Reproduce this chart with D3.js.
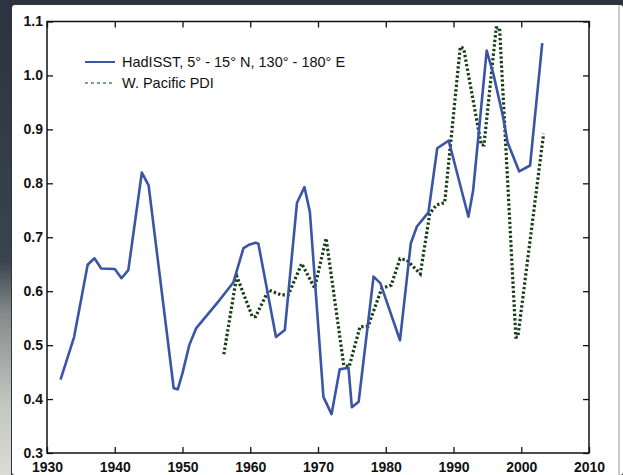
<!DOCTYPE html>
<html>
<head>
<meta charset="utf-8">
<script src="https://cdn.jsdelivr.net/npm/d3@7"></script>
<style>
  body { margin: 0; background: #2c3440; }
  svg { display: block; }
</style>
</head>
<body>
<div id="chart"></div>
<script>
// HadISST (blue line), years and values
var sstYears = [1932, 1934, 1936, 1937, 1938, 1940, 1941, 1942, 1944, 1945, 1948.7, 1949.3, 1950, 1951, 1952, 1955.5, 1957.5, 1959, 1959.8, 1960.8, 1961.2,
    1963.8, 1965.1, 1966.9, 1968, 1968.8, 1970.8, 1972, 1973.2, 1974.5, 1975, 1976, 1978.2, 1979.2, 1982.1, 1983.7, 1984.6, 1986.3, 1987.6, 1989.3,
    1992.2, 1992.9, 1994.9, 1995.9, 1997.3, 1998, 1999.7, 2001.3, 2003.1];
var sstValues = [0.436, 0.515, 0.649, 0.661, 0.642, 0.641, 0.624, 0.639, 0.82, 0.796, 0.42, 0.418, 0.448, 0.5, 0.531, 0.584, 0.616, 0.68, 0.686, 0.69, 0.688,
    0.515, 0.528, 0.764, 0.793, 0.747, 0.404, 0.372, 0.455, 0.458, 0.385, 0.395, 0.627, 0.615, 0.509, 0.689, 0.72, 0.746, 0.865, 0.879,
    0.738, 0.787, 1.046, 1.002, 0.924, 0.875, 0.822, 0.833, 1.06];

// W. Pacific PDI (green dotted line)
var pdiYears = [1956.1, 1958, 1960.3, 1960.8, 1962.7, 1964.6, 1965.6, 1967.6, 1969.5, 1971.2, 1973.8, 1974.6, 1976.2, 1977.4, 1979.4, 1980.8,
    1982.1, 1983.1, 1985.1, 1986.5, 1987.5, 1988.7, 1991, 1991.5, 1994.1, 1994.5, 1996.3, 1996.8, 1999.2, 1999.5, 2003.3];
var pdiValues = [0.483, 0.628, 0.553, 0.553, 0.602, 0.593, 0.593, 0.651, 0.606, 0.698, 0.463, 0.46, 0.534, 0.535, 0.605, 0.611,
    0.66, 0.658, 0.632, 0.744, 0.76, 0.764, 1.053, 1.05, 0.871, 0.871, 1.088, 1.088, 0.515, 0.515, 0.892];

var xTicks = [1930, 1940, 1950, 1960, 1970, 1980, 1990, 2000, 2010];
var yTicks = [0.3, 0.4, 0.5, 0.6, 0.7, 0.8, 0.9, 1.0, 1.1];
var legendLabels = ["HadISST, 5° - 15° N, 130° - 180° E", "W. Pacific PDI"];

var width = 623, height = 475;
var plot = { left: 47, right: 589, top: 21.5, bottom: 453 };

var svg = d3.select("#chart").append("svg")
    .attr("width", width)
    .attr("height", height);

// slide background: dark strip on top, gradient strip on the left
var defs = svg.append("defs");
var grad = defs.append("linearGradient")
    .attr("id", "leftGrad")
    .attr("x1", 0).attr("y1", 0).attr("x2", 0).attr("y2", 1);
grad.append("stop").attr("offset", "0%").attr("stop-color", "#2b3340");
grad.append("stop").attr("offset", "55%").attr("stop-color", "#3a4350");
grad.append("stop").attr("offset", "66%").attr("stop-color", "#858a8a");
grad.append("stop").attr("offset", "85%").attr("stop-color", "#c4c6c0");
grad.append("stop").attr("offset", "100%").attr("stop-color", "#dcdcd6");

svg.append("rect").attr("width", width).attr("height", height).attr("fill", "#2c3440");
svg.append("rect").attr("x", 0).attr("y", 0).attr("width", 11).attr("height", height).attr("fill", "url(#leftGrad)");
svg.append("rect")
    .attr("x", 12).attr("y", 5)
    .attr("width", width - 12).attr("height", height - 5)
    .attr("rx", 3)
    .attr("fill", "#ffffff");
svg.append("line")
    .attr("x1", 619).attr("x2", 619).attr("y1", 5).attr("y2", height)
    .attr("stroke", "#b8bab4").attr("stroke-width", 1.5);

var x = d3.scaleLinear().domain([1930, 2010]).range([plot.left, plot.right]);
var y = d3.scaleLinear().domain([0.3, 1.1]).range([plot.bottom, plot.top]);

// axes, ticks pointing inward on all four sides
var fmtY = d3.format(".1f");

svg.append("g")
    .attr("class", "xAxis")
    .attr("transform", `translate(0,${plot.bottom})`)
    .call(d3.axisBottom(x).tickValues(xTicks).tickFormat(d3.format("d")).tickSizeInner(-6).tickSizeOuter(0).tickPadding(9));

svg.append("g")
    .attr("class", "yAxis")
    .attr("transform", `translate(${plot.left},0)`)
    .call(d3.axisLeft(y).tickValues(yTicks).tickFormat(fmtY).tickSizeInner(-6).tickSizeOuter(0).tickPadding(4));

svg.append("g")
    .attr("class", "xAxisTop")
    .attr("transform", `translate(0,${plot.top})`)
    .call(d3.axisTop(x).tickValues(xTicks).tickFormat("").tickSizeInner(-6).tickSizeOuter(0));

svg.append("g")
    .attr("class", "yAxisRight")
    .attr("transform", `translate(${plot.right},0)`)
    .call(d3.axisRight(y).tickValues(yTicks).tickFormat("").tickSizeInner(-6).tickSizeOuter(0));

svg.selectAll(".domain").remove();
svg.selectAll(".tick line").attr("stroke", "#111").attr("stroke-width", 1.3);
svg.selectAll(".tick text")
    .attr("fill", "#111")
    .style("font-family", "'Liberation Sans', Arial, sans-serif")
    .style("font-size", "14px")
    .style("font-weight", "bold");

svg.append("rect")
    .attr("x", plot.left).attr("y", plot.top)
    .attr("width", plot.right - plot.left).attr("height", plot.bottom - plot.top)
    .attr("fill", "none").attr("stroke", "#111").attr("stroke-width", 1.5);

// lines
var sstData = sstYears.map(function (d, i) { return { year: d, value: sstValues[i] }; });
var pdiData = pdiYears.map(function (d, i) { return { year: d, value: pdiValues[i] }; });

var line = d3.line()
    .x(function (d) { return x(d.year); })
    .y(function (d) { return y(d.value); });

svg.append("path")
    .datum(pdiData)
    .attr("d", line)
    .attr("fill", "none")
    .attr("stroke", "#173f17")
    .attr("stroke-width", 3.2)
    .attr("stroke-dasharray", "2.4,2.2");

svg.append("path")
    .datum(sstData)
    .attr("d", line)
    .attr("fill", "none")
    .attr("stroke", "#3b55a6")
    .attr("stroke-width", 2.6)
    .attr("stroke-linejoin", "round");

// legend
var legend = svg.append("g").attr("class", "legend");
legend.append("line")
    .attr("x1", 85).attr("x2", 115).attr("y1", 62).attr("y2", 62)
    .attr("stroke", "#3b55a6").attr("stroke-width", 2);
legend.append("line")
    .attr("x1", 85).attr("x2", 115).attr("y1", 83).attr("y2", 83)
    .attr("stroke", "#4f8a4f").attr("stroke-width", 1.6)
    .attr("stroke-dasharray", "3,3");
legend.selectAll("text")
    .data(legendLabels)
    .join("text")
    .attr("x", 122)
    .attr("y", function (d, i) { return 67 + i * 21; })
    .attr("fill", "#111")
    .style("font-family", "'Liberation Sans', Arial, sans-serif")
    .style("font-size", "14.5px")
    .text(function (d) { return d; });
</script>
</body>
</html>
